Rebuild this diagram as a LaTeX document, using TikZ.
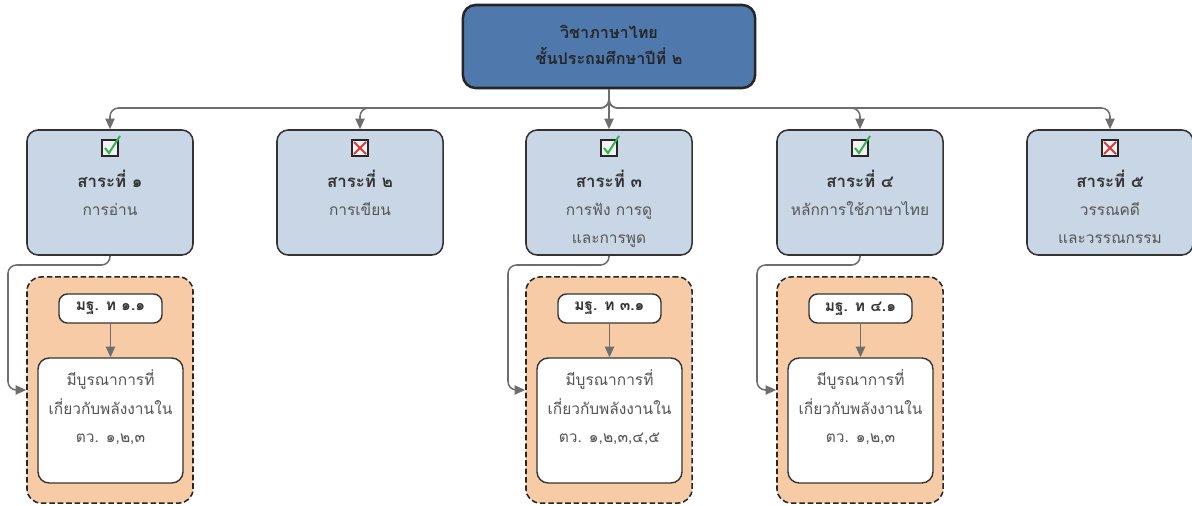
\documentclass[tikz,border=0pt]{standalone}
\usepackage{xcolor}
\usepackage{fontspec}
\setmainfont{Loma}[Script=Thai]
\usepackage{tikz}
\usetikzlibrary{arrows.meta}

\definecolor{topblue}{HTML}{4F79AD}
\definecolor{boxblue}{HTML}{C9D6E6}
\definecolor{peach}{HTML}{F8CBA7}
\definecolor{linegray}{HTML}{6E6E6E}
\definecolor{txtdark}{HTML}{333333}
\definecolor{txtgray}{HTML}{555555}
\definecolor{chkgreen}{HTML}{2DB34A}
\definecolor{crossred}{HTML}{D93A3A}

\begin{document}
\begin{tikzpicture}[x=0.025cm, y=-0.025cm,
    topbox/.style={draw=black!85, line width=1.8pt, fill=topblue, rounded corners=9pt, minimum width=7.3cm, minimum height=2.075cm},
    sarabox/.style={draw=black!80, line width=1.1pt, fill=boxblue, rounded corners=8pt, minimum width=4.15cm, minimum height=3.125cm},
    groupbox/.style={draw=black!85, line width=1.1pt, dash pattern=on 4pt off 2pt, fill=peach, rounded corners=10pt, minimum width=4.15cm, minimum height=5.65cm},
    stdbox/.style={draw=black!80, line width=1pt, fill=white, rounded corners=6pt, minimum width=2.575cm, minimum height=0.725cm, font=\fontsize{11pt}{12pt}\selectfont\bfseries, text=txtdark},
    indbox/.style={draw=black!80, line width=1pt, fill=white, rounded corners=8pt, minimum width=3.625cm, minimum height=3.125cm},
    icon/.style={draw=black!85, line width=1.6pt, fill=black!5, minimum size=0.41cm, inner sep=0pt},
    ttl/.style={inner sep=0pt, text height=8pt, text depth=2pt, font=\fontsize{12pt}{13pt}\selectfont\bfseries, text=txtdark},
    sub/.style={inner sep=0pt, text height=8pt, text depth=2pt, font=\fontsize{11pt}{13pt}\selectfont, text=txtgray},
    conn/.style={draw=linegray, line width=1.1pt, rounded corners=6pt, -{Triangle[length=7.5pt,width=6.5pt]}},
    chk/.style={draw=chkgreen, line width=1.4pt},
    crs/.style={draw=crossred, line width=1.3pt}]
    \useasboundingbox (0,0) rectangle (1192,506);

    % top
    \node[topbox] at (609,46.5) (top) {};
    \node[ttl, font=\fontsize{11.5pt}{13pt}\selectfont\bfseries, text=black!85] at (609,34) (top1) {วิชาภาษาไทย};
    \node[ttl, font=\fontsize{11.5pt}{13pt}\selectfont\bfseries, text=black!85] at (609,60) (top2) {ชั้นประถมศึกษาปีที่ ๒};
    \coordinate (hub) at (609,108);

    % sara boxes
    \node[sarabox] at (110,192.5) (s1) {};
    \node[sarabox] at (360,192.5) (s2) {};
    \node[sarabox] at (609,192.5) (s3) {};
    \node[sarabox] at (860,192.5) (s4) {};
    \node[sarabox] at (1110,192.5) (s5) {};

    \node[icon] at (110,148) (i1) {};
    \node[icon] at (360,148) (i2) {};
    \node[icon] at (609,148) (i3) {};
    \node[icon] at (860,148) (i4) {};
    \node[icon] at (1110,148) (i5) {};
    \draw[chk] ([shift={(-5,0)}]i1.center) -- ([shift={(-1,5)}]i1.center) -- ([shift={(10,-12)}]i1.center);
    \draw[chk] ([shift={(-5,0)}]i3.center) -- ([shift={(-1,5)}]i3.center) -- ([shift={(10,-12)}]i3.center);
    \draw[chk] ([shift={(-5,0)}]i4.center) -- ([shift={(-1,5)}]i4.center) -- ([shift={(10,-12)}]i4.center);
    \draw[crs] ([shift={(-6,-6)}]i2.center) -- ([shift={(6,6)}]i2.center);
    \draw[crs] ([shift={(-6,6)}]i2.center) -- ([shift={(6,-6)}]i2.center);
    \draw[crs] ([shift={(-6,-6)}]i5.center) -- ([shift={(6,6)}]i5.center);
    \draw[crs] ([shift={(-6,6)}]i5.center) -- ([shift={(6,-6)}]i5.center);

    \node[ttl] at (110,183) (t1) {สาระที่ ๑};
    \node[ttl] at (360,183) (t2) {สาระที่ ๒};
    \node[ttl] at (609,183) (t3) {สาระที่ ๓};
    \node[ttl] at (860,183) (t4) {สาระที่ ๔};
    \node[ttl] at (1110,183) (t5) {สาระที่ ๕};
    \node[sub] at (110,211) (u1) {การอ่าน};
    \node[sub] at (360,211) (u2) {การเขียน};
    \node[sub] at (609,211) (u3a) {การฟัง การดู};
    \node[sub] at (609,239) (u3b) {และการพูด};
    \node[sub] at (860,211) (u4) {หลักการใช้ภาษาไทย};
    \node[sub] at (1110,211) (u5a) {วรรณคดี};
    \node[sub] at (1110,239) (u5b) {และวรรณกรรม};

    \draw[conn] (top.south) -- (hub) -| (s1.north);
    \draw[conn] (top.south) -- (hub) -| (s2.north);
    \draw[conn] (top.south) -- (s3.north);
    \draw[conn] (top.south) -- (hub) -| (s4.north);
    \draw[conn] (top.south) -- (hub) -| (s5.north);

    % standards
    \node[groupbox] at (110,390) (k1) {};
    \node[groupbox] at (609,390) (k3) {};
    \node[groupbox] at (860,390) (k4) {};
    \node[stdbox] at (110.5,308.5) (m1) {มฐ. ท ๑.๑};
    \node[stdbox] at (609.5,308.5) (m3) {มฐ. ท ๓.๑};
    \node[stdbox] at (860.5,308.5) (m4) {มฐ. ท ๔.๑};
    \node[indbox] at (110.5,420.5) (d1) {};
    \node[indbox] at (609.5,420.5) (d3) {};
    \node[indbox] at (860.5,420.5) (d4) {};
    \node[sub] at (110.5,381) (d1a) {มีบูรณาการที่};
    \node[sub] at (110.5,410) (d1b) {เกี่ยวกับพลังงานใน};
    \node[sub] at (110.5,438) (d1c) {ตว. ๑,๒,๓};
    \node[sub] at (609.5,381) (d3a) {มีบูรณาการที่};
    \node[sub] at (609.5,410) (d3b) {เกี่ยวกับพลังงานใน};
    \node[sub] at (609.5,438) (d3c) {ตว. ๑,๒,๓,๔,๕};
    \node[sub] at (860.5,381) (d4a) {มีบูรณาการที่};
    \node[sub] at (860.5,410) (d4b) {เกี่ยวกับพลังงานใน};
    \node[sub] at (860.5,438) (d4c) {ตว. ๑,๒,๓};

    \draw[conn] (m1) -- (d1);
    \draw[conn] (m3) -- (d3);
    \draw[conn] (m4) -- (d4);

    \coordinate (b1) at (8,265);
    \coordinate (b3) at (508,265);
    \coordinate (b4) at (757,265);
    \draw[conn] (s1.south) |- (b1) |- (k1.west);
    \draw[conn] (s3.south) |- (b3) |- (k3.west);
    \draw[conn] (s4.south) |- (b4) |- (k4.west);
\end{tikzpicture}
\end{document}
